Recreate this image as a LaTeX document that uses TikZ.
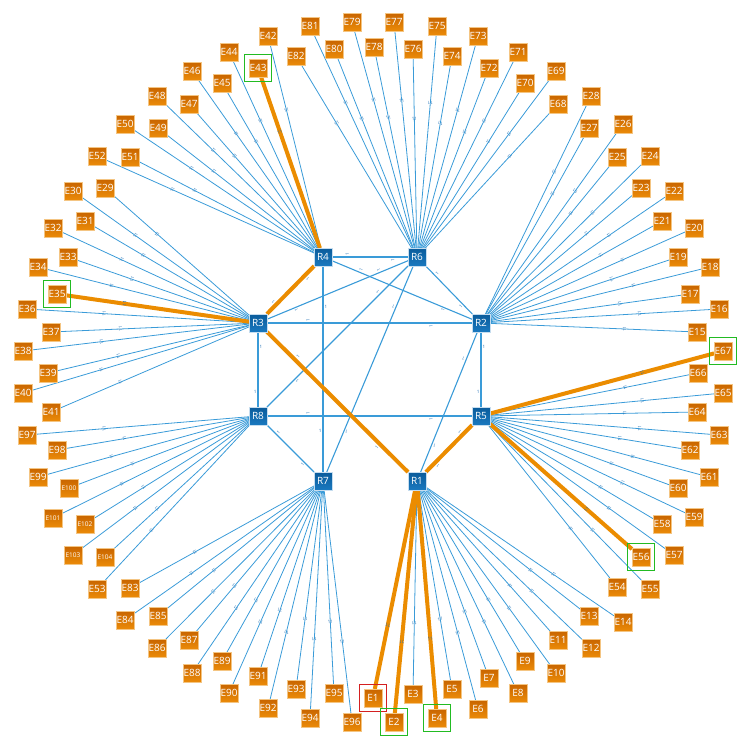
\documentclass[tikz,border=0pt]{standalone}
\usepackage{fontspec}
\setmainfont{Open Sans}
\usepackage{graphicx}
\definecolor{rtop}{HTML}{0A5C9C}
\definecolor{rbot}{HTML}{1A78BE}
\definecolor{etop}{HTML}{C96500}
\definecolor{ebot}{HTML}{EA8A08}
\definecolor{lnk}{HTML}{3A9BD8}
\definecolor{lbl}{HTML}{2070B5}
\definecolor{hl}{HTML}{EB8C00}
\definecolor{gbox}{HTML}{22BB22}
\definecolor{rbox}{HTML}{D42020}
\pgfdeclarelayer{bg}
\pgfsetlayers{bg,main}
\begin{document}
\begin{tikzpicture}[x=1pt,y=-1pt,
  rnode/.style={rectangle,minimum size=17.5pt,inner sep=0pt,top color=rtop,bottom color=rbot,draw=white!75!rbot,line width=0.5pt,text=white,font=\fontsize{10}{11}\selectfont},
  enode/.style={rectangle,minimum size=17.5pt,inner sep=0pt,top color=etop,bottom color=ebot,draw=ebot!50!white,line width=0.5pt,text=white,font=\fontsize{10}{11}\selectfont},
  esmall/.style={enode,font=\fontsize{6.5}{7}\selectfont},
  elink/.style={draw=lnk,line width=0.8pt},
  rlink/.style={draw=lnk,line width=1.1pt},
  hlink/.style={draw=hl,line width=4pt},
  elbl/.style={sloped,inner sep=0pt,text=lbl,font=\fontsize{4.5}{4.5}\selectfont},
  rlbl/.style={sloped,inner sep=1pt,text=lbl,font=\fontsize{4.5}{4.5}\selectfont},
  gsel/.style={rectangle,minimum size=27pt,inner sep=0pt,draw=gbox,line width=1.5pt},
  rsel/.style={rectangle,minimum size=27pt,inner sep=0pt,draw=rbox,line width=1.5pt}
]
\useasboundingbox (0,0) rectangle (750,750);
% routers
\node[rnode] (R1) at (417,481) {R1};
\node[rnode] (R2) at (481,323) {R2};
\node[rnode] (R3) at (258,323) {R3};
\node[rnode] (R4) at (323,257) {R4};
\node[rnode] (R5) at (481,416) {R5};
\node[rnode] (R6) at (417,257) {R6};
\node[rnode] (R7) at (323,481) {R7};
\node[rnode] (R8) at (258,416) {R8};
% end nodes
\foreach \n/\x/\y in {1/373/698,2/394/722,3/413/694,4/437/718,5/452/689,6/478/709,7/489/678,8/518/693,9/525/661,10/556/673,11/558/640,12/591/648,13/589/616,14/623/622,
15/697/332,16/719/309,17/690/294,18/710/267,19/678/257,20/694/228,21/662/221,22/674/191,23/641/188,24/650/156,25/617/157,26/623/124,27/589/128,28/591/96,
29/105/188,30/73/191,31/85/221,32/53/228,33/68/257,34/38/267,35/57/294,36/27/309,37/51/332,38/23/351,39/48/373,40/23/393,41/51/412,
42/268/36,43/258/68,44/229/52,45/222/83,46/192/71,47/189/104,48/157/96,49/158/128,50/125/124,51/130/157,52/97/156,53/97/589,
54/617/587,55/650/589,56/641/557,57/674/555,58/662/524,59/694/517,60/678/488,61/709/477,62/690/450,63/719/435,64/697/412,65/723/393,66/698/373,67/723/351,
68/558/104,69/556/71,70/525/83,71/518/52,72/489/68,73/478/36,74/452/56,75/437/26,76/413/49,77/394/22,78/374/47,79/352/22,80/334/49,81/310/26,82/296/56,
83/130/588,84/125/620,85/158/616,86/157/648,87/189/640,88/192/673,89/222/661,90/229/693,91/258/676,92/268/708,93/296/689,94/310/718,95/334/693,96/352/722,
97/27/435,98/57/450,99/38/477}
  \node[enode] (E\n) at (\x,\y) {E\n};
\foreach \n/\x/\y in {100/69/488,101/53/518,102/85/524,103/73/555,104/105/557}
  \node[esmall] (E\n) at (\x,\y) {E\n};
% links
\begin{pgfonlayer}{bg}
\foreach \r/\a/\b in {R1/1/14,R2/15/28,R3/29/41,R4/42/52,R5/54/67,R6/68/82,R7/83/96,R8/97/104,R8/53/53}{
  \foreach \i in {\a,...,\b}{
    \draw[elink] (\r) -- node[elbl,pos=.68]{\rotatebox{90}{11}} (E\i);
  }
}
\foreach \a/\b in {R4/R6,R4/R2,R4/R7,R6/R3,R6/R8,R6/R7,R6/R2,R3/R2,R3/R8,R2/R5,R2/R1,R8/R5,R8/R7}
  \draw[rlink] (\a) -- node[rlbl,pos=.2,above]{\rotatebox{90}{1}} node[rlbl,pos=.8,below]{\rotatebox{90}{1}} (\b);
\foreach \a/\b in {R3/R4,R3/R1,R5/R1}
  \draw[hlink] (\a) -- node[rlbl,pos=.2,above]{\rotatebox{90}{1}} node[rlbl,pos=.8,below]{\rotatebox{90}{1}} (\b);
\foreach \r/\e in {R1/E1,R1/E2,R1/E4,R3/E35,R4/E43,R5/E67,R5/E56}
  \draw[hlink] (\r) -- node[elbl,pos=.68]{\rotatebox{90}{11}} (\e);
\end{pgfonlayer}
% selection frames
\node[rsel] (S1) at (E1) {};
\foreach \e in {E2,E4,E35,E43,E56,E67}
  \node[gsel] (S\e) at (\e) {};
\end{tikzpicture}
\end{document}
